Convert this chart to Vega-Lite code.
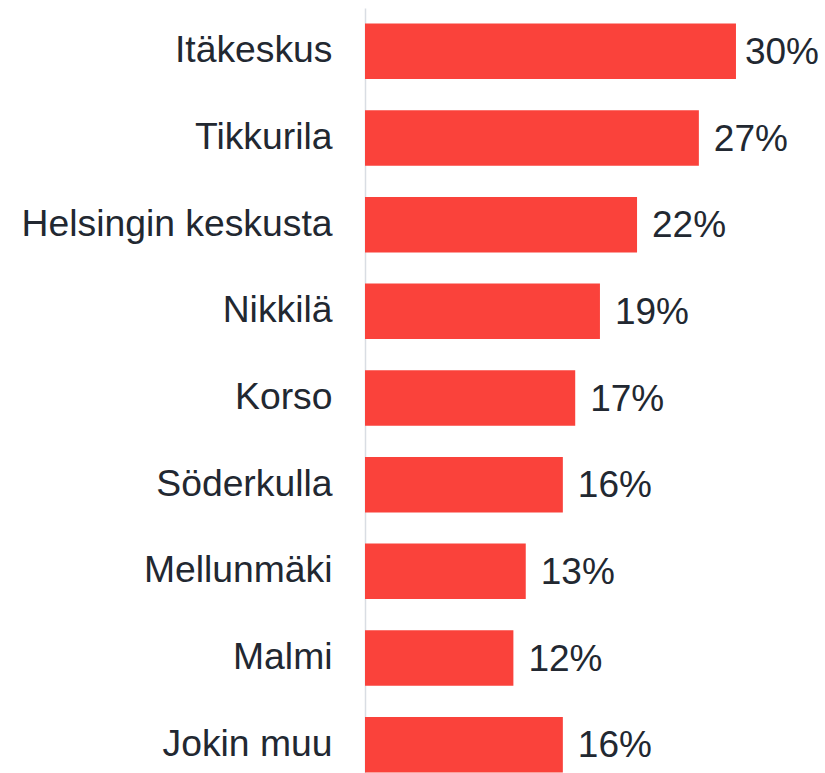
{
  "$schema": "https://vega.github.io/schema/vega-lite/v6.json",
  "autosize": {"type": "none"},
  "padding": {"left": 365, "top": 8, "right": 0, "bottom": 0},
  "width": 460,
  "height": 780,
  "background": "white",
  "config": {"view": {"stroke": null}, "font": "Liberation Sans"},
  "data": {"values": [
    {"place": "Itäkeskus", "pct": 0.30},
    {"place": "Tikkurila", "pct": 0.27},
    {"place": "Helsingin keskusta", "pct": 0.22},
    {"place": "Nikkilä", "pct": 0.19},
    {"place": "Korso", "pct": 0.17},
    {"place": "Söderkulla", "pct": 0.16},
    {"place": "Mellunmäki", "pct": 0.13},
    {"place": "Malmi", "pct": 0.12},
    {"place": "Jokin muu", "pct": 0.16}
  ]},
  "encoding": {
    "y": {
      "field": "place", "type": "nominal", "sort": null,
      "scale": {"paddingInner": 0.36, "paddingOuter": 0.18},
      "axis": {"title": null, "ticks": false, "domainColor": "#d9dde3", "domainWidth": 1.5,
        "labelFontSize": 37.3, "labelColor": "#222831", "labelPadding": 33, "labelFont": "Liberation Sans", "labelLimit": 400}
    },
    "x": {"field": "pct", "type": "quantitative", "scale": {"domain": [0, 0.372]}, "axis": null}
  },
  "layer": [
    {"mark": {"type": "bar", "color": "#fa423b"}},
    {"mark": {"type": "text", "align": "left", "baseline": "middle", "dy": 1.5, "dx": {"expr": "datum.pct >= 0.3 ? 9 : 15"}, "fontSize": 37, "color": "#222831", "font": "Liberation Sans"},
     "encoding": {"text": {"field": "pct", "type": "quantitative", "format": ".0%"}}}
  ]
}
